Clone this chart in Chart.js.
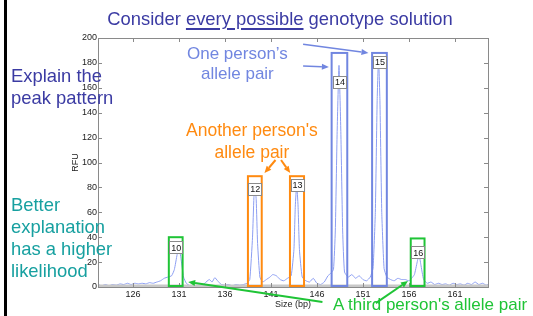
<!DOCTYPE html>
<html>
<head>
<meta charset="utf-8">
<script src="https://cdn.jsdelivr.net/npm/chart.js@4.4.1/dist/chart.umd.min.js"></script>
<style>
  html, body { margin: 0; padding: 0; background: #fff; }
  #slide { position: relative; width: 533px; height: 316px; overflow: hidden;
           font-family: "Liberation Sans", Arial, sans-serif; }
  #slide canvas { position: absolute; left: 0; top: 0; }
  .t { position: absolute; white-space: nowrap; }
  .bar { position: absolute; left: 4px; top: 0; width: 3px; height: 316px; background: #000; }
  .title { left: 0; width: 560px; top: 10px; font-size: 18.4px; line-height: 1; text-align: center; color: #3b3ba3; }
  .title u { text-decoration-thickness: 1.5px; text-underline-offset: 3px; }
  .explain { left: 11px; top: 65px; font-size: 18.4px; line-height: 22px; color: #3b3ba3; }
  .better { left: 11px; top: 193.6px; font-size: 18.4px; line-height: 22px; color: #17a0a0; }
  .one { left: 187px; top: 43.5px; font-size: 17px; line-height: 20px; color: #7186e0; text-align: center; }
  .another { left: 186px; top: 119.4px; font-size: 17.5px; line-height: 22px; color: #ff8a10; text-align: center; }
  .third { left: 333px; top: 295.6px; font-size: 17px; line-height: 1; color: #1fc436; }
</style>
</head>
<body>
<div id="slide">
  <canvas id="c-epg" width="533" height="316"></canvas>
  <div class="bar"></div>
  <div class="t title">Consider <u>every possible</u> genotype solution</div>
  <div class="t explain">Explain the<br>peak pattern</div>
  <div class="t better">Better<br>explanation<br>has a higher<br>likelihood</div>
  <div class="t one">One person’s<br>allele pair</div>
  <div class="t another">Another person's<br>allele pair</div>
  <div class="t third">A third person's allele pair</div>
</div>
<script>
"use strict";

/* ── Trace ───────────────────────────────────────────────────── */
const SIZE_BP = [
  122.2, 122.6, 123.0, 123.4, 123.8, 124.2, 124.6, 125.0, 125.4, 125.8,
  126.2, 126.6, 127.0, 127.4, 127.8, 128.2, 128.6, 129.0, 129.4, 129.8,
  130.2, 130.5, 130.8, 131.0, 131.2, 131.5, 131.8, 132.2, 132.6, 133.0,
  133.4, 133.8, 134.3, 134.6, 134.9, 135.2, 135.6, 136.0, 136.4, 136.8,
  137.2, 137.6, 138.0, 138.4, 138.7, 139.0, 139.15, 139.26, 139.4, 139.55,
  139.8, 140.1, 140.5, 140.9, 141.2, 141.6, 142.0, 142.4, 142.8, 143.2,
  143.5, 143.65, 143.8, 143.95, 144.1, 144.4, 144.8, 145.2, 145.6, 146.0,
  146.4, 146.8, 147.2, 147.5, 147.8, 148.0, 148.2, 148.4, 148.6, 148.8,
  149.0, 149.4, 149.8, 150.2, 150.6, 151.0, 151.4, 151.8, 152.1, 152.35,
  152.55, 152.7, 152.85, 153.05, 153.3, 153.6, 154.0, 154.4, 154.8, 155.2,
  155.6, 156.0, 156.3, 156.6, 156.9, 157.1, 157.3, 157.6, 158.0, 158.4,
  158.8, 159.2, 159.6, 160.0, 160.4, 160.8, 161.2, 161.6, 162.0, 162.4,
  162.8, 163.2, 163.6, 164.0, 164.4, 164.6
];
const RFU = [
  2, 1, 2, 1, 2, 1.5, 2.5, 2, 3, 2,
  3, 2.5, 3, 2.5, 3.5, 3, 4, 5, 7, 8,
  9, 14, 26, 32, 24, 8, 3, 1, 0.5, 1,
  0.5, 3, 6, 4, 7.5, 5, 2, 1.5, 2, 1,
  2, 1.5, 2, 3, 6, 40, 72, 82, 70, 35,
  8, 4, 6, 8, 10, 9, 6, 5, 7, 9,
  30, 65, 82, 65, 30, 8, 5, 4, 7, 3,
  2, 4, 9, 11, 14, 45, 125, 178, 125, 45,
  12, 8, 10, 7, 9, 6, 5, 8, 15, 60,
  150, 184, 150, 60, 15, 8, 6, 5, 7, 6,
  6, 5, 7, 10, 20, 26, 18, 6, 3, 4,
  2, 3, 2, 2.5, 1.5, 3, 2, 2.5, 1.5, 3,
  2, 4, 2, 3, 1.5, 2
];
const X_TICKS = [126, 131, 136, 141, 146, 151, 156, 161];

/* ── Allele calls and the boxes drawn round them ─────────────── */
const ALLELES    = ["10", "12", "13", "14", "15", "16"];
const ALLELE_LO  = [129.9, 138.5, 143.07, 147.6, 152.0, 156.2];
const ALLELE_HI  = [131.4, 140.0, 144.6, 149.3, 153.6, 157.7];
const ALLELE_TOP = [40, 89, 89, 188, 188, 39];
const LABEL_RFU  = [32, 79, 82, 165, 181, 28];
const PERSON     = [2, 1, 1, 0, 0, 2];

// arrows from the captions to the boxes: [fromBp, fromRfu, toBp, toRfu, person]
const ARROWS = [
  [144.5, 195, 151.6, 188, 0],
  [144.5, 177.5, 147.3, 176.7, 0],
  [141.5, 102, 140.3, 91.5, 1],
  [142.1, 102, 143.1, 91.5, 1],
  [146.6, -12, 132.0, 4, 2],
  [152.4, -13, 155.9, 4.8, 2],
];

const PERSON_COLORS = ["#7186e0", "#ff8a10", "#1fc436"];
const TRACE = "#8c9ef2";
const AXIS = "#8a8a8a";

function arrow(ctx, x0, y0, x1, y1, color, w) {
  const a = Math.atan2(y1 - y0, x1 - x0), L = 7, H = 3;
  const bx = x1 - L * Math.cos(a), by = y1 - L * Math.sin(a);
  ctx.strokeStyle = color; ctx.fillStyle = color; ctx.lineWidth = w;
  ctx.beginPath(); ctx.moveTo(x0, y0); ctx.lineTo(bx, by); ctx.stroke();
  ctx.beginPath();
  ctx.moveTo(x1, y1);
  ctx.lineTo(bx + H * Math.sin(a), by - H * Math.cos(a));
  ctx.lineTo(bx - H * Math.sin(a), by + H * Math.cos(a));
  ctx.closePath(); ctx.fill();
}

/* ── Frame, inward ticks, allele boxes, labels and arrows ────── */
const deco = {
  id: "deco",
  afterDatasetsDraw(chart) {
    const { ctx, chartArea: a, scales: { x, y } } = chart;
    ctx.save();
    // baseline
    ctx.strokeStyle = "#c8c8c8"; ctx.lineWidth = 3;
    ctx.beginPath(); ctx.moveTo(a.left, a.bottom - 1); ctx.lineTo(a.right, a.bottom - 1); ctx.stroke();
    // frame
    ctx.strokeStyle = AXIS; ctx.lineWidth = 1;
    ctx.strokeRect(a.left + 0.5, a.top + 0.5, a.right - a.left, a.bottom - a.top);
    // inward ticks
    ctx.beginPath();
    for (const t of x.ticks) {
      const px = Math.round(x.getPixelForValue(t.value)) + 0.5;
      ctx.moveTo(px, a.bottom); ctx.lineTo(px, a.bottom - 4);
      ctx.moveTo(px, a.top); ctx.lineTo(px, a.top + 4);
    }
    for (const t of y.ticks) {
      const py = Math.round(y.getPixelForValue(t.value)) + 0.5;
      ctx.moveTo(a.left, py); ctx.lineTo(a.left + 4, py);
      ctx.moveTo(a.right, py); ctx.lineTo(a.right - 4, py);
    }
    ctx.stroke();
    // allele boxes
    ctx.lineWidth = 2;
    ALLELES.forEach((name, i) => {
      const x0 = x.getPixelForValue(ALLELE_LO[i]), x1 = x.getPixelForValue(ALLELE_HI[i]);
      const y0 = y.getPixelForValue(ALLELE_TOP[i]), y1 = y.getPixelForValue(0);
      ctx.strokeStyle = PERSON_COLORS[PERSON[i]];
      ctx.strokeRect(x0, y0, x1 - x0, y1 - y0 - 1);
    });
    // allele labels
    ctx.font = '9px "Liberation Sans", Arial, sans-serif';
    ctx.textAlign = "center"; ctx.textBaseline = "middle";
    ctx.lineWidth = 1;
    ALLELES.forEach((name, i) => {
      const cx = x.getPixelForValue((ALLELE_LO[i] + ALLELE_HI[i]) / 2);
      const cy = y.getPixelForValue(LABEL_RFU[i]);
      const w = 13, h = 12;
      ctx.fillStyle = "#fff";
      ctx.fillRect(Math.round(cx - w / 2) + 0.5, Math.round(cy - h / 2) + 0.5, w, h);
      ctx.strokeStyle = "#8a8a8a";
      ctx.strokeRect(Math.round(cx - w / 2) + 0.5, Math.round(cy - h / 2) + 0.5, w, h);
      ctx.fillStyle = "#111";
      ctx.fillText(name, cx + 0.5, cy + 1);
    });
    // arrows
    for (const [bx0, r0, bx1, r1, p] of ARROWS) {
      arrow(ctx, x.getPixelForValue(bx0), y.getPixelForValue(r0),
            x.getPixelForValue(bx1), y.getPixelForValue(r1),
            PERSON_COLORS[p], p === 0 ? 1.5 : 2);
    }
    ctx.restore();
  },
};

const TICK_FONT = { family: '"Liberation Sans", Arial, sans-serif', size: 9 };

new Chart(document.getElementById("c-epg"), {
  type: "line",
  data: {
    datasets: [{
      data: SIZE_BP.map((bp, i) => ({ x: bp, y: RFU[i] })),
      borderColor: TRACE, borderWidth: 1, pointRadius: 0, tension: 0.15, fill: false,
    }],
  },
  options: {
    responsive: false, animation: false,
    layout: { padding: { left: 66, right: 45, top: 38, bottom: 0 } },
    scales: {
      x: {
        type: "linear", min: 122.2, max: 164.6,
        afterBuildTicks: (s) => { s.ticks = X_TICKS.map(v => ({ value: v })); },
        afterFit: (s) => { s.height = 29; },
        grid: { display: false, drawTicks: false }, border: { display: false },
        ticks: { font: TICK_FONT, color: "#222", padding: 2, autoSkip: false, maxRotation: 0 },
        title: { display: true, text: "Size (bp)", font: TICK_FONT, color: "#222", padding: { top: 0, bottom: 6 } },
      },
      y: {
        min: 0, max: 200,
        afterFit: (s) => { s.width = 32; },
        grid: { display: false, drawTicks: false }, border: { display: false },
        ticks: { stepSize: 20, font: TICK_FONT, color: "#222", padding: 1 },
        title: { display: true, text: "RFU", font: TICK_FONT, color: "#222", padding: { top: 4, bottom: 0 } },
      },
    },
    plugins: { legend: { display: false }, tooltip: { enabled: false } },
  },
  plugins: [deco],
});
</script>
</body>
</html>
